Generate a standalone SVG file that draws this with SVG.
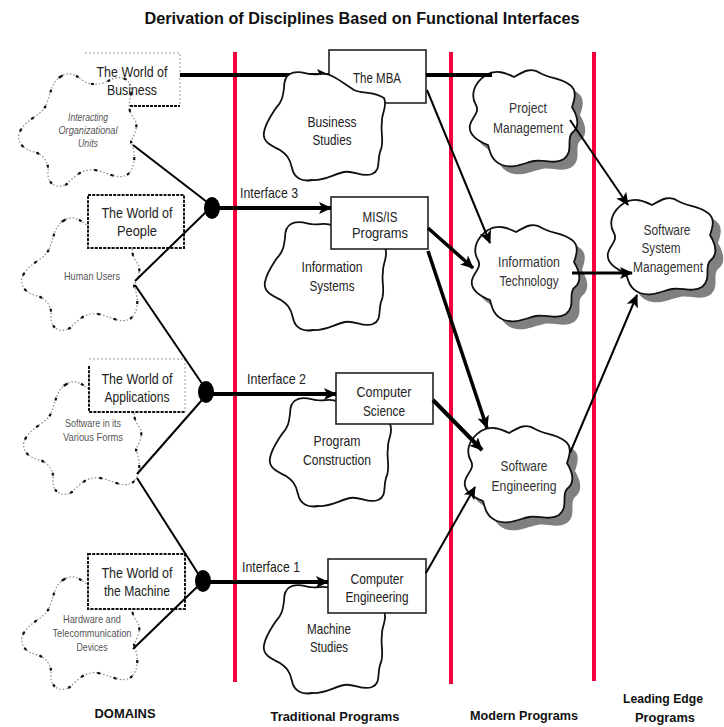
<svg xmlns="http://www.w3.org/2000/svg" width="724" height="727" viewBox="0 0 724 727">
<style>
.t{font-family:"Liberation Sans",Arial,sans-serif;text-anchor:middle}
.box{font-size:15px;fill:#222}
.dom{font-size:10.5px;fill:#555}
.mod{font-size:14px;fill:#333}
.lbl{font-family:"Liberation Sans",Arial,sans-serif;font-weight:bold;font-size:13px;fill:#111;text-anchor:middle}
.rect{fill:#fff;stroke:#222;stroke-width:1.6}
.tc{fill:#fff;stroke:#111;stroke-width:1.8;stroke-linejoin:round}
.dc1{fill:#fff;stroke:#888;stroke-width:1.2;stroke-dasharray:1.5 2}
.dc2{fill:none;stroke:#111;stroke-width:2.2;stroke-dasharray:3 14}
.red{stroke:#f5003d;stroke-width:4}
.ln{stroke:#000;fill:none}
.st{text-anchor:start}
</style>
<defs>
<marker id="ah" markerUnits="userSpaceOnUse" markerWidth="14" markerHeight="14" refX="12" refY="7" orient="auto">
<path d="M0,1 L13,7 L0,13 L3,7 Z" fill="#000"/>
</marker>
<path id="dcloud" d="M45,5 C55,-2 62,4 70,10 C80,14 88,12 95,8 C108,2 118,8 116,22 C114,32 112,38 120,48 C124,56 118,64 116,70 C120,80 122,95 112,103 C102,108 92,100 80,98 C68,96 60,104 52,112 C42,118 32,112 33,100 C34,92 30,84 20,80 C8,78 2,70 4,62 C8,50 20,46 28,38 C36,28 34,12 45,5 Z"/>
<path id="tcloud" d="M28,4 C34,0 42,3 48,4 C56,6 62,1 70,6 C78,10 84,15 92,20 C100,24 112,21 122,28 C126,36 119,44 120,52 C118,62 123,72 118,82 C115,92 119,100 110,104 C100,108 92,100 82,102 C72,104 62,111 50,110 C40,112 32,108 30,98 C28,88 24,84 18,80 C10,76 0,72 2,62 C4,52 9,46 14,38 C20,32 21,26 22,18 C22,10 24,6 28,4 Z"/>
<path id="mcloud" d="M20,8 C30,2 40,6 48,10 C58,4 66,0 74,6 C84,12 94,10 104,18 C112,24 108,34 106,40 C112,50 114,60 106,66 C100,72 108,84 98,92 C88,98 78,92 68,94 C58,96 48,102 36,98 C26,94 24,86 22,78 C12,74 2,68 4,58 C6,50 14,46 10,38 C4,28 8,16 20,8 Z"/>
</defs>
<rect width="724" height="727" fill="#fff"/>
<text x="362" y="24" font-family="Liberation Sans,Arial,sans-serif" font-weight="bold" font-size="16" text-anchor="middle" textLength="435" lengthAdjust="spacingAndGlyphs" fill="#111">Derivation of Disciplines Based on Functional Interfaces</text>

<g id="grid">
<line class="red" x1="235" y1="52" x2="235" y2="682"/>
<line class="red" x1="451" y1="52" x2="451" y2="684"/>
<line class="red" x1="594" y1="52" x2="594" y2="681"/>
</g>

<!-- Domains -->
<g id="domain-business">
<rect x="85" y="53" width="95" height="53" fill="#fff"/>
<path d="M85,53 H180 V106" fill="none" stroke="#999" stroke-width="1" stroke-dasharray="2 2"/>
<path d="M110,106 H180" fill="none" stroke="#111" stroke-width="2" stroke-dasharray="3 1"/>
<use href="#dcloud" class="dc1" transform="translate(15,72)"/>
<use href="#dcloud" class="dc2" transform="translate(15,72)"/>
<text class="t box" x="132" y="77" textLength="71" lengthAdjust="spacingAndGlyphs">The World of</text>
<text class="t box" x="132" y="95" textLength="50" lengthAdjust="spacingAndGlyphs">Business</text>
<text class="t dom" x="88" y="121" font-style="italic" textLength="40" lengthAdjust="spacingAndGlyphs">Interacting</text>
<text class="t dom" x="88" y="134" font-style="italic" textLength="59" lengthAdjust="spacingAndGlyphs">Organizational</text>
<text class="t dom" x="88" y="147" font-style="italic" textLength="20" lengthAdjust="spacingAndGlyphs">Units</text>
</g>
<g id="domain-people">
<use href="#dcloud" class="dc1" transform="translate(18,216)"/>
<use href="#dcloud" class="dc2" transform="translate(18,216)"/>
<rect x="88" y="195" width="96" height="53" fill="#fff" stroke="#111" stroke-width="2" stroke-dasharray="3 1.2"/>
<text class="t box" x="137" y="218" textLength="71" lengthAdjust="spacingAndGlyphs">The World of</text>
<text class="t box" x="137" y="236" textLength="40" lengthAdjust="spacingAndGlyphs">People</text>
<text class="t dom" x="92" y="280" textLength="56" lengthAdjust="spacingAndGlyphs">Human Users</text>
</g>
<g id="domain-applications">
<use href="#dcloud" class="dc1" transform="translate(20,380)"/>
<use href="#dcloud" class="dc2" transform="translate(20,380)"/>
<rect x="89" y="359" width="96" height="53" fill="#fff"/>
<path d="M89,359 H185 V412" fill="none" stroke="#999" stroke-width="1" stroke-dasharray="2 2"/>
<path d="M89,366 V412 H185" fill="none" stroke="#111" stroke-width="2" stroke-dasharray="3 1.2"/>
<text class="t box" x="137" y="384" textLength="71" lengthAdjust="spacingAndGlyphs">The World of</text>
<text class="t box" x="137" y="402" textLength="65" lengthAdjust="spacingAndGlyphs">Applications</text>
<text class="t dom" x="93" y="427" textLength="56" lengthAdjust="spacingAndGlyphs">Software in its</text>
<text class="t dom" x="93" y="441" textLength="60" lengthAdjust="spacingAndGlyphs">Various  Forms</text>
</g>
<g id="domain-machine">
<use href="#dcloud" class="dc1" transform="translate(18,575)"/>
<use href="#dcloud" class="dc2" transform="translate(18,575)"/>
<rect x="88" y="554" width="97" height="55" fill="#fff" stroke="#111" stroke-width="2" stroke-dasharray="3 1.2"/>
<text class="t box" x="137" y="578" textLength="71" lengthAdjust="spacingAndGlyphs">The World of</text>
<text class="t box" x="137" y="596" textLength="66" lengthAdjust="spacingAndGlyphs">the Machine</text>
<text class="t dom" x="92" y="623" textLength="58" lengthAdjust="spacingAndGlyphs">Hardware and</text>
<text class="t dom" x="92" y="637" textLength="79" lengthAdjust="spacingAndGlyphs">Telecommunication</text>
<text class="t dom" x="92" y="651" textLength="31" lengthAdjust="spacingAndGlyphs">Devices</text>
</g>

<!-- Traditional -->
<g id="mba">
<rect class="rect" x="329" y="50" width="97" height="53"/>
</g>
<g id="mis">
<use href="#tcloud" class="tc" transform="translate(263,220)"/>
<rect class="rect" x="331" y="197" width="97" height="52"/>
<text class="t box" x="380" y="222" textLength="35" lengthAdjust="spacingAndGlyphs">MIS/IS</text>
<text class="t box" x="380" y="238" textLength="56" lengthAdjust="spacingAndGlyphs">Programs</text>
<text class="t box" x="332" y="272" textLength="61" lengthAdjust="spacingAndGlyphs">Information</text>
<text class="t box" x="332" y="291" textLength="45" lengthAdjust="spacingAndGlyphs">Systems</text>
</g>
<g id="cs">
<use href="#tcloud" class="tc" transform="translate(268,396)"/>
<rect class="rect" x="336" y="373" width="97" height="51"/>
<text class="t box" x="384" y="397" textLength="55" lengthAdjust="spacingAndGlyphs">Computer</text>
<text class="t box" x="384" y="416" textLength="42" lengthAdjust="spacingAndGlyphs">Science</text>
<text class="t box" x="337" y="446" textLength="47" lengthAdjust="spacingAndGlyphs">Program</text>
<text class="t box" x="337" y="465" textLength="68" lengthAdjust="spacingAndGlyphs">Construction</text>
</g>
<g id="ce">
<use href="#tcloud" class="tc" transform="translate(262,583)"/>
<rect class="rect" x="328" y="559" width="98" height="54"/>
<text class="t box" x="377" y="584" textLength="53" lengthAdjust="spacingAndGlyphs">Computer</text>
<text class="t box" x="377" y="602" textLength="63" lengthAdjust="spacingAndGlyphs">Engineering</text>
<text class="t box" x="329" y="634" textLength="44" lengthAdjust="spacingAndGlyphs">Machine</text>
<text class="t box" x="329" y="652" textLength="38" lengthAdjust="spacingAndGlyphs">Studies</text>
</g>

<!-- Modern -->
<g id="pm">
<use href="#mcloud" fill="#808080" transform="translate(474,75)"/>
<use href="#mcloud" class="tc" transform="translate(466,67)"/>
<text class="t mod" x="528" y="113" textLength="38" lengthAdjust="spacingAndGlyphs">Project</text>
<text class="t mod" x="528" y="133" textLength="70" lengthAdjust="spacingAndGlyphs">Management</text>
</g>
<g id="it">
<use href="#mcloud" fill="#808080" transform="translate(476,230)"/>
<use href="#mcloud" class="tc" transform="translate(468,222)"/>
<text class="t mod" x="529" y="267" textLength="62" lengthAdjust="spacingAndGlyphs">Information</text>
<text class="t mod" x="529" y="286" textLength="59" lengthAdjust="spacingAndGlyphs">Technology</text>
</g>
<g id="se">
<use href="#mcloud" fill="#808080" transform="translate(469,431)"/>
<use href="#mcloud" class="tc" transform="translate(461,423)"/>
<text class="t mod" x="524" y="471" textLength="47" lengthAdjust="spacingAndGlyphs">Software</text>
<text class="t mod" x="524" y="491" textLength="65" lengthAdjust="spacingAndGlyphs">Engineering</text>
</g>
<g id="ssm">
<use href="#mcloud" fill="#808080" transform="translate(612,203)"/>
<use href="#mcloud" class="tc" transform="translate(604,195)"/>
<text class="t mod" x="667" y="235" textLength="47" lengthAdjust="spacingAndGlyphs">Software</text>
<text class="t mod" x="661" y="253" textLength="39" lengthAdjust="spacingAndGlyphs">System</text>
<text class="t mod" x="668" y="272" textLength="70" lengthAdjust="spacingAndGlyphs">Management</text>
</g>

<!-- Connectors -->
<g id="connectors">
<line class="ln" x1="133" y1="145" x2="207" y2="202" stroke-width="2"/>
<line class="ln" x1="206" y1="212" x2="135" y2="281" stroke-width="2"/>
<line class="ln" x1="135" y1="285" x2="203" y2="385" stroke-width="2"/>
<line class="ln" x1="202" y1="400" x2="137" y2="474" stroke-width="2"/>
<line class="ln" x1="137" y1="478" x2="199" y2="575" stroke-width="2"/>
<line class="ln" x1="197" y1="587" x2="133" y2="649" stroke-width="2"/>
<ellipse cx="212" cy="208" rx="8" ry="11" fill="#000"/>
<ellipse cx="206" cy="392" rx="8" ry="11" fill="#000"/>
<ellipse cx="203" cy="581" rx="8" ry="11" fill="#000"/>
<line class="ln" x1="180" y1="75" x2="329" y2="75" stroke-width="4" marker-end="url(#ah)"/>
<line class="ln" x1="212" y1="208" x2="331" y2="208" stroke-width="4" marker-end="url(#ah)"/>
<line class="ln" x1="206" y1="394" x2="336" y2="394" stroke-width="4" marker-end="url(#ah)"/>
<line class="ln" x1="203" y1="582" x2="328" y2="582" stroke-width="4" marker-end="url(#ah)"/>
<line class="ln" x1="426" y1="75" x2="492" y2="75" stroke-width="4"/>
<line class="ln" x1="427" y1="90" x2="490" y2="243" stroke-width="2" marker-end="url(#ah)"/>
<line class="ln" x1="428" y1="228" x2="473" y2="268" stroke-width="3.5" marker-end="url(#ah)"/>
<line class="ln" x1="428" y1="251" x2="487" y2="428" stroke-width="3.5" marker-end="url(#ah)"/>
<line class="ln" x1="433" y1="400" x2="482" y2="450" stroke-width="4" marker-end="url(#ah)"/>
<line class="ln" x1="426" y1="573" x2="475" y2="487" stroke-width="2" marker-end="url(#ah)"/>
<line class="ln" x1="570" y1="120" x2="628" y2="205" stroke-width="2" marker-end="url(#ah)"/>
<line class="ln" x1="572" y1="273" x2="632" y2="273" stroke-width="3" marker-end="url(#ah)"/>
<line class="ln" x1="570" y1="453" x2="637" y2="295" stroke-width="2" marker-end="url(#ah)"/>
<text class="t box st" x="240" y="198" textLength="58" lengthAdjust="spacingAndGlyphs">Interface 3</text>
<text class="t box st" x="247" y="384" textLength="59" lengthAdjust="spacingAndGlyphs">Interface 2</text>
<text class="t box st" x="242" y="572" textLength="58" lengthAdjust="spacingAndGlyphs">Interface 1</text>
</g>

<g id="business-studies">
<use href="#tcloud" class="tc" transform="translate(262,70)"/>
<text class="t box" x="332" y="127" textLength="49" lengthAdjust="spacingAndGlyphs">Business</text>
<text class="t box" x="332" y="145" textLength="39" lengthAdjust="spacingAndGlyphs">Studies</text>
<text class="t box" x="377" y="83" textLength="48" lengthAdjust="spacingAndGlyphs">The MBA</text>
</g>

<g id="labels">
<text class="lbl" x="125" y="718" textLength="61" lengthAdjust="spacingAndGlyphs">DOMAINS</text>
<text class="lbl" x="335" y="721" textLength="129" lengthAdjust="spacingAndGlyphs">Traditional Programs</text>
<text class="lbl" x="524" y="720" textLength="108" lengthAdjust="spacingAndGlyphs">Modern Programs</text>
<text class="lbl" x="663" y="703" textLength="80" lengthAdjust="spacingAndGlyphs">Leading Edge</text>
<text class="lbl" x="665" y="722" textLength="60" lengthAdjust="spacingAndGlyphs">Programs</text>
</g>
</svg>
